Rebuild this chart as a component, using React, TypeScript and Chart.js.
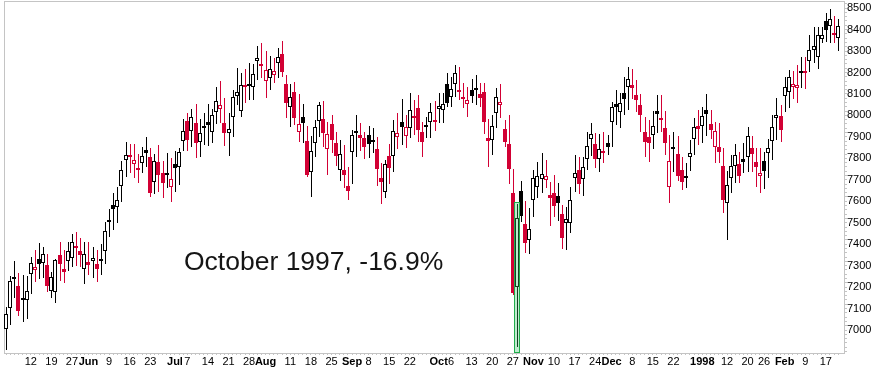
import React, { useEffect, useRef } from "react";
import { Chart, registerables } from "chart.js";

Chart.register(...registerables);

// Dow Jones Industrials, daily candles, 2 May 1997 - 20 Feb 1998 (index 0 = 2 May 1997)
const priorClose = 6976;

const opens = [
  7005, 7101, 7248, 7205, 7148, 7138, 7259, 7281, 7329, 7311,
  7301, 7183, 7176, 7349, 7284, 7323, 7334, 7387, 7368, 7286,
  7317, 7323, 7307, 7331, 7369, 7512, 7582, 7572, 7672, 7790,
  7810, 7772, 7751, 7776, 7838, 7804, 7688, 7781, 7730, 7727,
  7665, 7772, 7758, 7882, 7974, 7928, 7963, 7877, 7950, 7967,
  7924, 8017, 8028, 7963, 7916, 7991, 8091, 8022, 8140, 8136,
  8131, 8254, 8239, 8158, 8172, 8186, 8242, 8286, 8146, 8037,
  8107, 7924, 7991, 7880, 7737, 7872, 7975, 7981, 7842, 7960,
  7872, 7745, 7745, 7671, 7831, 7927, 7908, 7893, 7908, 7885,
  7842, 7709, 7644, 7810, 7812, 7898, 7970, 7905, 7942, 7997,
  8033, 7924, 7946, 7970, 7974, 8031, 8023, 8146, 8084, 8144,
  8107, 8084, 8051, 8118, 8126, 8098, 8107, 7896, 7885, 8009,
  8048, 7936, 7865, 7637, 7202, 7647, 7494, 7419, 7606, 7665,
  7703, 7699, 7629, 7640, 7624, 7540, 7497, 7500, 7707, 7745,
  7702, 7798, 7888, 7866, 7795, 7834, 7870, 7970, 8053, 8017,
  8103, 8131, 8141, 8095, 8048, 7924, 7900, 7908, 8020, 7986,
  7940, 7665, 7851, 7820, 7745, 7717, 7807, 7888, 7950, 7950,
  8025, 7960, 7854, 7854, 7765, 7592, 7707, 7765, 7773, 7797,
  7804, 7848, 7783, 7719, 7787, 7826, 7882, 7986, 7997, 8091,
  8107, 8134, 8129, 8196, 8203, 8255, 8304, 8273, 8355, 8439,
  8418, 8383, 8359,
];

const highs = [
  7108, 7252, 7321, 7264, 7256, 7252, 7339, 7373, 7404, 7388,
  7353, 7272, 7330, 7410, 7373, 7410, 7447, 7456, 7430, 7410,
  7410, 7388, 7373, 7401, 7504, 7562, 7640, 7668, 7786, 7874,
  7865, 7866, 7820, 7854, 7900, 7849, 7820, 7862, 7787, 7823,
  7800, 7834, 7849, 7981, 8009, 8028, 8053, 7983, 8009, 8053,
  8029, 8133, 8160, 8079, 8009, 8118, 8222, 8196, 8214, 8242,
  8239, 8323, 8335, 8300, 8276, 8268, 8312, 8346, 8188, 8146,
  8154, 8099, 8051, 7950, 7904, 7978, 8063, 8067, 7970, 8001,
  7924, 7885, 7862, 7761, 7932, 8001, 7966, 7924, 7950, 7940,
  7900, 7776, 7792, 7865, 7978, 8009, 8075, 8001, 8103, 8071,
  8095, 7970, 7994, 8059, 8067, 8103, 8103, 8199, 8180, 8234,
  8224, 8149, 8133, 8169, 8188, 8152, 8152, 7981, 8001, 8129,
  8146, 7978, 8001, 7749, 7585, 7694, 7601, 7570, 7745, 7781,
  7823, 7792, 7691, 7722, 7683, 7582, 7574, 7668, 7815, 7804,
  7807, 7924, 7966, 7919, 7912, 7922, 7908, 8063, 8118, 8103,
  8177, 8224, 8214, 8165, 8099, 7994, 7978, 8020, 8095, 8095,
  8020, 7908, 7924, 7904, 7807, 7779, 7885, 7986, 8025, 8040,
  8099, 8025, 7970, 7963, 7846, 7742, 7815, 7866, 7831, 7870,
  7944, 7904, 7846, 7846, 7831, 7888, 8001, 8083, 8048, 8177,
  8211, 8208, 8234, 8270, 8273, 8374, 8413, 8413, 8413, 8479,
  8498, 8463, 8447,
];

const lows = [
  6907, 7023, 7148, 7065, 7039, 7051, 7166, 7225, 7238, 7241,
  7178, 7148, 7127, 7230, 7220, 7276, 7292, 7300, 7292, 7216,
  7256, 7241, 7224, 7256, 7307, 7435, 7466, 7500, 7598, 7714,
  7730, 7709, 7683, 7730, 7761, 7621, 7632, 7644, 7613, 7660,
  7598, 7644, 7675, 7835, 7835, 7854, 7803, 7807, 7862, 7858,
  7872, 7958, 7963, 7858, 7810, 7900, 8048, 7994, 8059, 8071,
  8071, 8165, 8175, 8082, 8118, 8149, 8172, 8177, 7986, 7947,
  7955, 7877, 7872, 7715, 7618, 7807, 7900, 7854, 7722, 7823,
  7764, 7695, 7660, 7606, 7680, 7807, 7835, 7795, 7800, 7823,
  7671, 7585, 7613, 7679, 7737, 7842, 7862, 7849, 7893, 7908,
  7877, 7807, 7893, 7893, 7929, 7966, 7966, 8040, 8040, 8087,
  8071, 8033, 7991, 8056, 8048, 8040, 7912, 7761, 7815, 7940,
  7986, 7851, 7679, 7163, 6922, 7502, 7360, 7353, 7528, 7613,
  7637, 7660, 7486, 7528, 7509, 7377, 7373, 7453, 7644, 7634,
  7624, 7745, 7810, 7753, 7737, 7779, 7815, 7854, 7955, 7940,
  8001, 8025, 8075, 8017, 7924, 7807, 7784, 7842, 7916, 7924,
  7815, 7593, 7737, 7695, 7652, 7663, 7742, 7815, 7862, 7872,
  7904, 7888, 7776, 7776, 7544, 7419, 7640, 7686, 7683, 7730,
  7737, 7737, 7668, 7640, 7657, 7707, 7792, 7885, 7877, 8014,
  8033, 8075, 8059, 8126, 8121, 8203, 8242, 8218, 8339, 8344,
  8339, 8337, 8302,
];

const closes = [
  7075, 7228, 7240, 7090, 7141, 7180, 7311, 7293, 7306, 7353,
  7206, 7245, 7326, 7307, 7270, 7368, 7408, 7380, 7350, 7354,
  7303, 7335, 7284, 7323, 7461, 7505, 7564, 7606, 7745, 7815,
  7804, 7790, 7746, 7810, 7826, 7637, 7789, 7721, 7683, 7720,
  7702, 7754, 7828, 7926, 7885, 7991, 7872, 7916, 7943, 7953,
  8001, 8067, 8047, 7919, 7935, 8084, 8110, 8140, 8134, 8140,
  8192, 8266, 8231, 8210, 8214, 8206, 8270, 8203, 8056, 8084,
  7986, 7958, 7966, 7722, 7834, 7944, 8048, 7919, 7915, 7885,
  7810, 7818, 7722, 7647, 7908, 7920, 7896, 7851, 7865, 7878,
  7749, 7691, 7772, 7753, 7927, 7918, 7948, 7944, 8025, 7990,
  7932, 7877, 7950, 8017, 7967, 8042, 8051, 8059, 8121, 8196,
  8118, 8077, 8071, 8091, 8118, 8080, 7967, 7880, 7950, 8084,
  8061, 7877, 7749, 7171, 7523, 7532, 7404, 7469, 7707, 7719,
  7725, 7717, 7613, 7579, 7590, 7427, 7516, 7606, 7730, 7680,
  7758, 7857, 7913, 7798, 7842, 7823, 7852, 8037, 8041, 8056,
  8075, 8168, 8129, 8071, 8001, 7877, 7870, 7950, 8005, 7979,
  7872, 7787, 7844, 7719, 7691, 7710, 7823, 7944, 7935, 7995,
  8005, 7932, 7925, 7831, 7606, 7677, 7764, 7815, 7717, 7785,
  7904, 7820, 7761, 7733, 7742, 7848, 7944, 8001, 7932, 8130,
  8177, 8146, 8141, 8206, 8197, 8307, 8323, 8374, 8376, 8400,
  8447, 8376, 8416,
];

// x-axis labels: candle index -> text
const xLabelIndex = [
  6, 11, 16, 20, 25, 30, 35, 41, 44, 49,
  54, 59, 63, 69, 74, 79, 84, 88, 93, 98,
  105, 108, 113, 118, 123, 128, 133, 138, 143, 147,
  152, 157, 162, 169, 175, 180, 184, 189, 194, 199,
];
const xLabelText = [
  "12", "19", "27", "Jun", "9", "16", "23", "Jul", "7", "14",
  "21", "28", "Aug", "11", "18", "25", "Sep", "8", "15", "22",
  "Oct", "6", "13", "20", "27", "Nov", "10", "17", "24", "Dec",
  "8", "15", "22", "1998", "12", "20", "26", "Feb", "9", "17",
];
const boldLabels = ["Jun", "Jul", "Aug", "Sep", "Oct", "Nov", "Dec", "1998", "Feb"];

const yLabels = [7000, 7100, 7200, 7300, 7400, 7500, 7600, 7700, 7800, 7900, 8000, 8100, 8200, 8300, 8400, 8500];
const yMin = 6893;
const yMax = 8533;

const highlightIndex = 124; // 28 Oct 1997
const annotationText = "October 1997, -16.9%";

const FONT = '"Liberation Sans", Arial, Helvetica, sans-serif';
const RED = "#d20034";
const BLACK = "#000000";
const FRAME = "#c4c4c4";

// snap computed bar geometry to whole pixels so the candles render crisply
const snapPlugin = {
  id: "snap",
  afterUpdate(chart: any) {
    chart.data.datasets.forEach((ds: any, di: number) => {
      const meta = chart.getDatasetMeta(di);
      const isWick = ds.label === "Wick";
      meta.data.forEach((el: any) => {
        el.x = Math.round(el.x) + (isWick ? 0.5 : 0);
        el.y = Math.round(el.y);
        el.base = Math.round(el.base);
      });
    });
  },
};

const framePlugin = {
  id: "frame",
  beforeDatasetsDraw(chart: any) {
    const { ctx, chartArea: a } = chart;
    ctx.save();
    ctx.strokeStyle = FRAME;
    ctx.lineWidth = 1;
    ctx.strokeRect(
      Math.round(a.left) + 0.5,
      Math.round(a.top) + 0.5,
      Math.round(a.right - a.left),
      Math.round(a.bottom - a.top)
    );
    ctx.restore();
  },
};

const annotationPlugin = {
  id: "annot",
  afterDatasetsDraw(chart: any) {
    const { ctx, chartArea: a, scales } = chart;
    const cx = scales.x.getPixelForValue(highlightIndex);
    const top = Math.round(scales.y.getPixelForValue(highs[highlightIndex]) - 2);
    const left = Math.round(cx - 2.5);
    const bottom = Math.round(a.bottom);
    ctx.save();
    ctx.fillStyle = "rgba(60, 195, 105, 0.33)";
    ctx.fillRect(left, top, 6, bottom - top);
    ctx.strokeStyle = "#1fae4b";
    ctx.lineWidth = 1;
    ctx.strokeRect(left + 0.5, top + 0.5, 5, bottom - top - 1);
    ctx.font = `26.5px ${FONT}`;
    ctx.fillStyle = "#151515";
    ctx.textBaseline = "alphabetic";
    ctx.textAlign = "left";
    ctx.fillText(annotationText, a.left + 180, 270);
    ctx.restore();
  },
};

export default function App() {
  const ref = useRef<HTMLCanvasElement>(null);

  useEffect(() => {
    document.body.style.margin = "0";
    const canvas = ref.current;
    if (!canvas) return;

    const idx = closes.map((_, i) => i);
    const prev = idx.map((i) => (i === 0 ? priorClose : closes[i - 1]));
    const color = idx.map((i) => (closes[i] >= prev[i] ? BLACK : RED));
    const fill = idx.map((i) => (closes[i] < opens[i] ? color[i] : "#ffffff"));
    const bodies = idx.map((i) => ({
      x: i,
      y: [Math.min(opens[i], closes[i]), Math.max(opens[i], closes[i])],
    }));
    const wicks = idx.map((i) => ({ x: i, y: [lows[i], highs[i]] }));

    const labelMap = new Map<number, string>();
    xLabelIndex.forEach((v, k) => labelMap.set(v, xLabelText[k]));

    const yTickValues: number[] = [];
    for (let v = 6900; v <= 8520; v += 20) yTickValues.push(v);

    Chart.defaults.font.family = FONT;

    const chart = new Chart(canvas, {
      type: "bar",
      data: {
        datasets: [
          {
            label: "Body",
            data: bodies as any,
            order: 0,
            grouped: false,
            barThickness: 4,
            minBarLength: 2,
            borderWidth: 1,
            borderSkipped: false,
            inflateAmount: 0,
            borderColor: color,
            backgroundColor: fill,
          } as any,
          {
            label: "Wick",
            data: wicks as any,
            order: 1,
            grouped: false,
            barThickness: 1,
            borderWidth: 0,
            inflateAmount: 0,
            backgroundColor: color,
          } as any,
        ],
      },
      options: {
        responsive: false,
        animation: false,
        devicePixelRatio: 1,
        layout: { padding: { left: 4, top: 1, right: 0, bottom: 0 }, autoPadding: false } as any,
        plugins: {
          legend: { display: false },
          tooltip: { enabled: false },
          title: { display: false },
        },
        scales: {
          x: {
            type: "linear",
            min: -0.5,
            max: 203.4,
            offset: false,
            grid: { offset: false, drawOnChartArea: false, drawTicks: true, tickLength: 2, color: FRAME },
            border: { display: false },
            afterBuildTicks: (s: any) => {
              s.ticks = idx.map((v) => ({ value: v }));
            },
            afterFit: (s: any) => {
              s.height = 29;
              s.paddingLeft = 0;
              s.paddingRight = 0;
            },
            ticks: {
              autoSkip: false,
              maxRotation: 0,
              minRotation: 0,
              padding: 0,
              color: "#000",
              font: (ctx: any) => ({
                family: FONT,
                size: 11,
                weight: boldLabels.includes(labelMap.get(ctx.tick?.value) ?? "") ? "bold" : "normal",
              }),
              callback: (v: any) => labelMap.get(Number(v)) ?? "",
            },
          } as any,
          y: {
            type: "linear",
            position: "right",
            min: yMin,
            max: yMax,
            grid: { drawOnChartArea: false, drawTicks: true, tickLength: 3, color: FRAME },
            border: { display: false },
            afterBuildTicks: (s: any) => {
              s.ticks = yTickValues.map((v) => ({ value: v }));
            },
            afterFit: (s: any) => {
              s.width = 30;
              s.paddingTop = 0;
              s.paddingBottom = 0;
            },
            ticks: {
              autoSkip: false,
              padding: 0,
              color: "#000",
              font: { family: FONT, size: 11 },
              callback: (v: any) => (yLabels.includes(Number(v)) ? String(v) : ""),
            },
          } as any,
        },
      },
      plugins: [snapPlugin, framePlugin, annotationPlugin],
    });

    return () => chart.destroy();
  }, []);

  return (
    <div style={{ width: 874, height: 382 }}>
      <canvas ref={ref} width={874} height={382} style={{ display: "block" }} />
    </div>
  );
}
